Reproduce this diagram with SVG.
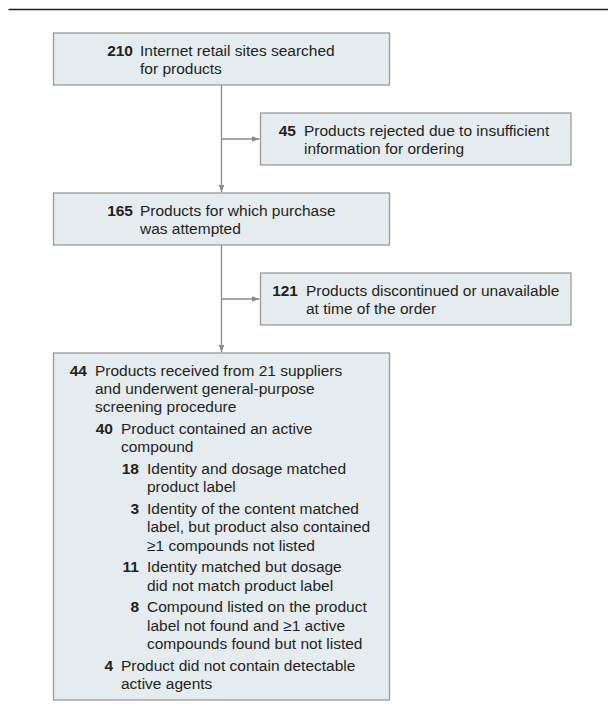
<svg xmlns="http://www.w3.org/2000/svg" width="608" height="721" viewBox="0 0 608 721">
<style>
.box{fill:#e5ecf0;stroke:#9a9a9a;stroke-width:1.3}
.t{font-family:"Liberation Sans",Arial,sans-serif;font-size:15.5px;fill:#231f20}
.n{font-weight:bold;text-anchor:end}
.conn{fill:none;stroke:#8c8c8c;stroke-width:1.3}
</style>
<defs>
<marker id="ah" markerUnits="userSpaceOnUse" markerWidth="9" markerHeight="7" refX="8" refY="3.5" orient="auto">
<path d="M0,0.5 L8,3.5 L0,6.5 z" fill="#8c8c8c"/>
</marker>
</defs>
<rect x="0" y="0" width="608" height="721" fill="#ffffff"/>
<line x1="8.5" y1="9.5" x2="608" y2="9.5" stroke="#231f20" stroke-width="1.6"/>
<g id="connectors">
<line class="conn" x1="221.5" y1="85" x2="221.5" y2="192.5" marker-end="url(#ah)"/>
<line class="conn" x1="221.5" y1="139" x2="259.5" y2="139" marker-end="url(#ah)"/>
<line class="conn" x1="221.5" y1="245" x2="221.5" y2="352.5" marker-end="url(#ah)"/>
<line class="conn" x1="221.5" y1="299" x2="259.5" y2="299" marker-end="url(#ah)"/>
</g>
<g id="n210">
<rect class="box" x="53.5" y="33" width="336" height="52"/>
<text class="t n" x="133" y="55.5">210</text>
<text class="t" x="140" y="55.5">Internet retail sites searched</text>
<text class="t" x="140" y="73.7">for products</text>
</g>
<g id="n45">
<rect class="box" x="260.5" y="113" width="310.5" height="52"/>
<text class="t n" x="296" y="135.5">45</text>
<text class="t" x="304" y="135.5">Products rejected due to insufficient</text>
<text class="t" x="304" y="153.7">information for ordering</text>
</g>
<g id="n165">
<rect class="box" x="53.5" y="193" width="336" height="52"/>
<text class="t n" x="133" y="215.5">165</text>
<text class="t" x="140" y="215.5">Products for which purchase</text>
<text class="t" x="140" y="233.7">was attempted</text>
</g>
<g id="n121">
<rect class="box" x="260.5" y="273" width="310.5" height="52"/>
<text class="t n" x="298" y="295.5">121</text>
<text class="t" x="306" y="295.5">Products discontinued or unavailable</text>
<text class="t" x="306" y="313.7">at time of the order</text>
</g>
<g id="n44">
<rect class="box" x="53.5" y="353" width="336" height="347"/>
<text class="t n" x="87" y="376">44</text>
<text class="t" x="95" y="376">Products received from 21 suppliers</text>
<text class="t" x="95" y="394.2">and underwent general-purpose</text>
<text class="t" x="95" y="412.4">screening procedure</text>
<text class="t n" x="113" y="434.2">40</text>
<text class="t" x="121" y="434.2">Product contained an active</text>
<text class="t" x="121" y="452.4">compound</text>
<text class="t n" x="139" y="474.2">18</text>
<text class="t" x="147" y="474.2">Identity and dosage matched</text>
<text class="t" x="147" y="492.4">product label</text>
<text class="t n" x="139" y="514.2">3</text>
<text class="t" x="147" y="514.2">Identity of the content matched</text>
<text class="t" x="147" y="532.4">label, but product also contained</text>
<text class="t" x="147" y="550.6">≥1 compounds not listed</text>
<text class="t n" x="139" y="572.4">11</text>
<text class="t" x="147" y="572.4">Identity matched but dosage</text>
<text class="t" x="147" y="590.6">did not match product label</text>
<text class="t n" x="139" y="612.4">8</text>
<text class="t" x="147" y="612.4">Compound listed on the product</text>
<text class="t" x="147" y="630.6">label not found and ≥1 active</text>
<text class="t" x="147" y="648.8">compounds found but not listed</text>
<text class="t n" x="113" y="670.6">4</text>
<text class="t" x="121" y="670.6">Product did not contain detectable</text>
<text class="t" x="121" y="688.8">active agents</text>
</g>
</svg>
